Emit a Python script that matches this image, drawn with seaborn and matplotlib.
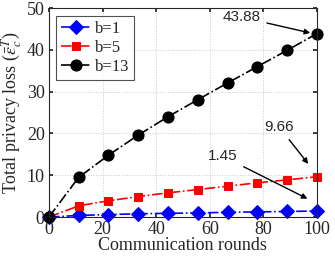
import pandas as pd
import matplotlib
matplotlib.use("Agg")
import matplotlib.pyplot as plt
import seaborn as sns

rounds = [0, 11.1, 22.2, 33.3, 44.4, 55.6, 66.7, 77.8, 88.9, 100]
loss_b1 = [0, 0.4, 0.6, 0.8, 0.9, 1.0, 1.15, 1.25, 1.35, 1.45]
loss_b5 = [0, 2.7, 3.9, 4.9, 5.8, 6.6, 7.4, 8.2, 8.9, 9.66]
loss_b13 = [0, 9.5, 14.8, 19.6, 24.0, 28.1, 32.1, 36.0, 39.9, 43.88]

labels = ["b=1", "b=5", "b=13"]
colors = ["blue", "red", "black"]
markers = ["D", "s", "o"]
msizes = [7, 6, 8]

sns.set_theme(style="whitegrid")
plt.rcParams["font.family"] = ["Liberation Serif", "DejaVu Serif"]
plt.rcParams["mathtext.fontset"] = "stix"

fig = plt.figure(figsize=(3.35, 2.6), dpi=100)
ax = fig.add_axes([0.146, 0.165, 0.80, 0.804])

for lab, vals, c, m, ms in zip(labels, [loss_b1, loss_b5, loss_b13], colors, markers, msizes):
    df = pd.DataFrame({"x": rounds, "y": vals})
    sns.lineplot(data=df, x="x", y="y", ax=ax, color=c, marker=m, markersize=ms,
                 markeredgecolor=c, linestyle="-.", linewidth=1.2, label=lab, clip_on=False)

ax.set_xlim(0, 100)
ax.set_ylim(0, 50)
ax.set_xticks([0, 20, 40, 60, 80, 100])
ax.set_yticks([0, 10, 20, 30, 40, 50])
ax.tick_params(labelsize=13, pad=3, length=3, direction="in", left=True, bottom=True, right=True, top=True)
ax.set_xlabel("Communication rounds", fontsize=13, labelpad=-1)
ax.set_ylabel(r"Total privacy loss ($\bar{\epsilon}_c^T$)", fontsize=13, labelpad=2)
ax.set_facecolor("white")
ax.grid(True, linestyle=":", color="#c8c8c8", linewidth=0.7)
for s in ax.spines.values():
    s.set_color("#262626")
    s.set_linewidth(0.8)

leg = ax.legend(loc="upper left", fontsize=12, frameon=True, fancybox=False,
                edgecolor="#262626", handlelength=1.8, handletextpad=0.2,
                borderpad=0.3, labelspacing=0.2, borderaxespad=0.45)
leg.get_frame().set_linewidth(0.8)

ann = dict(arrowprops=dict(arrowstyle="-|>", color="black", lw=1.0, mutation_scale=8),
           fontsize=11, family=["Liberation Sans", "DejaVu Sans"], ha="center", va="center")
ax.annotate("43.88", xy=(98.5, 43.9), xytext=(72, 47.8), **ann)
ax.annotate("9.66", xy=(97.4, 12.2), xytext=(86, 21.5), **ann)
ax.annotate("1.45", xy=(97.4, 4.1), xytext=(65, 14.5), **ann)

fig.savefig("out.png", dpi=100)
